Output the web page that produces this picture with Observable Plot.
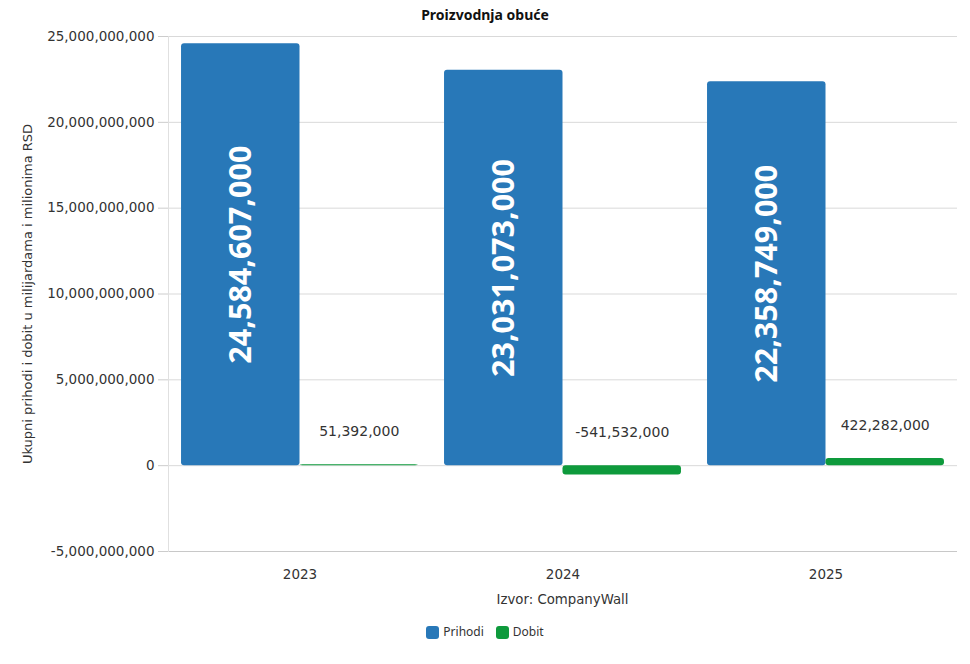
<!DOCTYPE html>
<html>
<head>
<meta charset="utf-8">
<script src="https://cdn.jsdelivr.net/npm/d3@7"></script>
<script src="https://cdn.jsdelivr.net/npm/@observablehq/plot@0.6"></script>
<style>
  html, body { margin: 0; padding: 0; background: #fff; }
  body { width: 970px; height: 664px; position: relative; font-family: "DejaVu Sans", sans-serif; color: #333; }
  #title { position: absolute; top: 6px; left: 0; width: 970px; text-align: center; font-family: "Noto Sans", sans-serif; font-weight: bold; font-size: 14px; line-height: 18px; color: #111; }
  #chart { position: absolute; top: 26px; left: 0; }
  #source { position: absolute; top: 591px; left: 167px; width: 791px; text-align: center; font-size: 13.3px; line-height: 18px; color: #333; }
  #legend { position: absolute; top: 624px; left: 0; width: 970px; text-align: center; font-family: "Noto Sans", sans-serif; font-size: 12px; line-height: 16px; color: #333; }
  .item { display: inline-flex; align-items: center; margin: 0 6px; }
  .sw { display: inline-block; width: 13px; height: 13px; border-radius: 3px; margin-right: 4px; }
</style>
</head>
<body>
<div id="title">Proizvodnja obuće</div>
<div id="chart"></div>
<div id="source">Izvor: CompanyWall</div>
<div id="legend"></div>
<script>
const years = ["2023", "2024", "2025"];
const series = ["Prihodi", "Dobit"];
const prihodi = [24584607000, 23031073000, 22358749000];
const dobit = [51392000, -541532000, 422282000];
const colors = ["#2878b8", "#0e9a3c"];
const yTicks = [-5e9, 0, 5e9, 10e9, 15e9, 20e9, 25e9];
const yLabel = "Ukupni prihodi i dobit u milijardama i milionima RSD";

const data = years.flatMap((y, i) => [
  {year: y, series: "Prihodi", value: prihodi[i]},
  {year: y, series: "Dobit", value: dobit[i]}
]);
const comma = d3.format(",");
const fmt = v => comma(v).replace("\u2212", "-");

const chart = Plot.plot({
  width: 970,
  height: 562,
  marginTop: 10,
  marginLeft: 167,
  marginRight: 12,
  marginBottom: 37,
  style: {fontFamily: "DejaVu Sans", fontSize: "13.5px", color: "#333", overflow: "visible"},
  fx: {domain: years, padding: 0, label: null, tickSize: 0, tickPadding: 18},
  x: {domain: series, paddingInner: 0, paddingOuter: 0.11, round: false, axis: null},
  y: {domain: [-5e9, 25e9]},
  color: {domain: series, range: colors},
  marks: [
    Plot.gridY(yTicks, {stroke: "#d9d9d9", strokeOpacity: 1}),
    Plot.ruleY([-5e9], {stroke: "#c8c8c8"}),
    Plot.frame({anchor: "left", facetAnchor: "left", stroke: "#e0e0e0"}),
    Plot.axisY(yTicks, {
      tickFormat: fmt, tickSize: 10, tickPadding: 4, stroke: "#ccc", fontSize: 13.5, label: null
    }),
    Plot.axisY([], {
      fontSize: 13, label: yLabel, labelAnchor: "center", labelOffset: 146, labelArrow: "none"
    }),
    Plot.barY(data, {fx: "year", x: "series", y: "value", fill: "series", rx: 3}),
    Plot.text(data.filter(d => d.series === "Prihodi"), {
      fx: "year", x: "series", y: d => d.value / 2, text: d => fmt(d.value),
      rotate: -90, fill: "white", fontWeight: "bold", fontSize: 30.5, fontFamily: "Noto Sans"
    }),
    Plot.text(data.filter(d => d.series === "Dobit"), {
      fx: "year", x: "series", y: d => Math.max(0, d.value), text: d => fmt(d.value),
      dy: -33, fill: "#333", fontSize: 14
    })
  ]
});
document.getElementById("chart").append(chart);

const legend = document.getElementById("legend");
series.forEach((s, i) => {
  const it = document.createElement("span");
  it.className = "item";
  const sw = document.createElement("span");
  sw.className = "sw";
  sw.style.background = colors[i];
  it.append(sw, document.createTextNode(s));
  legend.append(it);
});
</script>
</body>
</html>
